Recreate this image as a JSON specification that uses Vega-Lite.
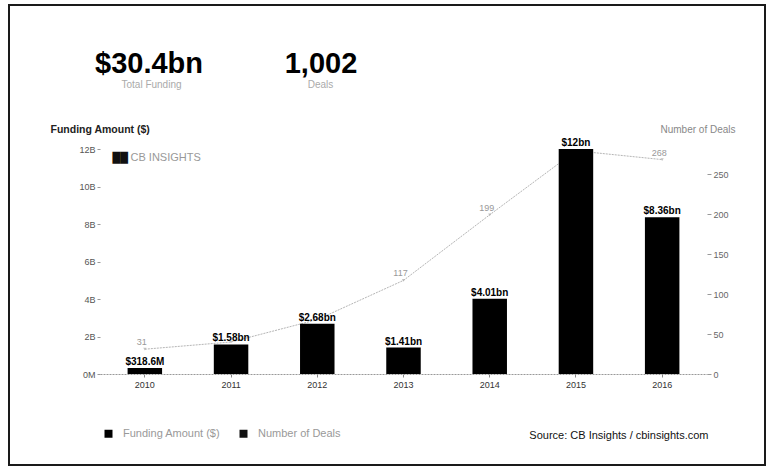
{
  "$schema": "https://vega.github.io/schema/vega-lite/v6.json",
  "width": 756,
  "height": 460,
  "autosize": {"type": "none"},
  "padding": {"left": 9, "top": 5, "right": 2, "bottom": 1},
  "background": "white",
  "config": {
    "font": "Liberation Sans",
    "view": {"stroke": "#1a1a1a", "strokeWidth": 2}
  },
  "data": {
    "values": [
      {"year": "2010", "funding": 0.3186, "label": "$318.6M", "deals": 31},
      {"year": "2011", "funding": 1.58, "label": "$1.58bn", "deals": 40},
      {"year": "2012", "funding": 2.68, "label": "$2.68bn", "deals": 68},
      {"year": "2013", "funding": 1.41, "label": "$1.41bn", "deals": 117},
      {"year": "2014", "funding": 4.01, "label": "$4.01bn", "deals": 199},
      {"year": "2015", "funding": 12, "label": "$12bn", "deals": 279},
      {"year": "2016", "funding": 8.36, "label": "$8.36bn", "deals": 268}
    ]
  },
  "layer": [
    {
      "mark": {"type": "line", "color": "#b5b5b5", "strokeWidth": 1, "strokeDash": [2, 1]},
      "encoding": {
        "x": {"field": "year", "type": "ordinal", "sort": null,
          "scale": {"type": "band", "range": [91, 698], "paddingInner": 0.6, "paddingOuter": 0.32},
          "axis": {"orient": "top", "offset": 0, "labels": false, "ticks": false, "domain": false, "grid": false,
            "title": "$30.4bn", "titleX": 139.5, "titleY": 67, "titleAlign": "center", "titleAnchor": null, "titleBaseline": "alphabetic",
            "titleFontSize": 29, "titleFontWeight": "bold", "titleColor": "#000"}},
        "y": {"field": "deals", "type": "quantitative",
          "scale": {"domain": [0, 281.25], "range": [369, 144], "nice": false, "zero": true},
          "axis": {"orient": "right", "offset": -58, "values": [0, 50, 100, 150, 200, 250], "grid": false, "domain": false,
            "tickSize": 4, "tickColor": "#999", "labelPadding": 2, "labelFontSize": 9, "labelColor": "#666",
            "title": "Number of Deals", "titleAngle": 0, "titleX": 28, "titleY": 127, "titleAlign": "right", "titleBaseline": "alphabetic",
            "titleFontSize": 10, "titleFontWeight": "normal", "titleColor": "#888"}}
      }
    },
    {
      "mark": {"type": "point", "shape": "triangle-down", "filled": true, "size": 10, "color": "#aaa"},
      "encoding": {
        "x": {"field": "year", "type": "ordinal", "sort": null,
          "scale": {"type": "band", "range": [91, 698], "paddingInner": 0.6, "paddingOuter": 0.32},
          "axis": {"orient": "top", "offset": 0, "labels": false, "ticks": false, "domain": false, "grid": false,
            "title": "Total Funding", "titleX": 142, "titleY": 82, "titleAlign": "center", "titleBaseline": "alphabetic",
            "titleFontSize": 10, "titleFontWeight": "normal", "titleColor": "#aaa"}},
        "y": {"field": "deals", "type": "quantitative",
          "scale": {"domain": [0, 281.25], "range": [369, 144], "nice": false, "zero": true},
          "axis": {"orient": "left", "offset": 0, "labels": false, "ticks": false, "domain": false, "grid": false,
            "title": "██", "titleAngle": 0, "titleX": 103, "titleY": 155, "titleAlign": "left", "titleBaseline": "alphabetic",
            "titleFont": "DejaVu Sans", "titleFontSize": 10, "titleFontWeight": "normal", "titleColor": "#111"}}
      }
    },
    {
      "transform": [{"filter": "datum.year != '2011' && datum.year != '2012' && datum.year != '2015'"}],
      "mark": {"type": "text", "dy": -4, "dx": -3, "baseline": "alphabetic", "fontSize": 9, "color": "#999"},
      "encoding": {
        "x": {"field": "year", "type": "ordinal", "sort": null,
          "scale": {"type": "band", "range": [91, 698], "paddingInner": 0.6, "paddingOuter": 0.32},
          "axis": {"orient": "top", "offset": 0, "labels": false, "ticks": false, "domain": false, "grid": false,
            "title": "1,002", "titleX": 311.5, "titleY": 67, "titleAlign": "center", "titleBaseline": "alphabetic",
            "titleFontSize": 29, "titleFontWeight": "bold", "titleColor": "#000"}},
        "y": {"field": "deals", "type": "quantitative",
          "scale": {"domain": [0, 281.25], "range": [369, 144], "nice": false, "zero": true},
          "axis": {"orient": "left", "offset": 0, "labels": false, "ticks": false, "domain": false, "grid": false,
            "title": "CB INSIGHTS", "titleAngle": 0, "titleX": 121, "titleY": 155, "titleAlign": "left", "titleBaseline": "alphabetic",
            "titleFontSize": 11, "titleFontWeight": "normal", "titleColor": "#999"}},
        "text": {"field": "deals", "type": "quantitative"}
      }
    },
    {
      "mark": {"type": "bar"},
      "encoding": {
        "x": {"field": "year", "type": "ordinal", "sort": null,
          "scale": {"type": "band", "range": [91, 698], "paddingInner": 0.6, "paddingOuter": 0.32},
          "axis": {"orient": "bottom", "offset": -91, "labelAngle": 0, "labelFontSize": 9, "labelColor": "#333", "labelPadding": 3,
            "tickSize": 3, "tickColor": "#888", "domain": true, "domainColor": "#999", "domainDash": [2, 1], "grid": false,
            "title": "Source: CB Insights / cbinsights.com", "titleX": 699, "titleY": 64, "titleAlign": "right", "titleBaseline": "alphabetic",
            "titleFontSize": 11, "titleFontWeight": "normal", "titleColor": "#111"}},
        "y": {"field": "funding", "type": "quantitative",
          "scale": {"domain": [0, 12], "range": [369, 144], "nice": false, "zero": true},
          "axis": {"orient": "left", "offset": -91, "values": [0, 2, 4, 6, 8, 10, 12], "grid": false, "domain": false,
            "labelExpr": "datum.value == 0 ? '0M' : datum.value + 'B'",
            "tickSize": 3, "tickColor": "#999", "labelPadding": 2, "labelFontSize": 9, "labelColor": "#555",
            "title": "Funding Amount ($)", "titleAngle": 0, "titleX": -50, "titleY": 127, "titleAlign": "left", "titleBaseline": "alphabetic",
            "titleFontSize": 10.5, "titleFontWeight": "bold", "titleColor": "#222"}},
        "color": {"datum": "Funding Amount ($)", "type": "nominal",
          "scale": {"domain": ["Funding Amount ($)", "Number of Deals"], "range": ["#000000", "#111111"]},
          "legend": {"orient": "none", "legendX": 94, "legendY": 423, "direction": "horizontal", "title": null,
            "symbolType": "square", "symbolSize": 64, "symbolStrokeWidth": 0, "labelFontSize": 11, "labelColor": "#999",
            "labelOffset": 9, "columnPadding": 17, "padding": 0}}
      }
    },
    {
      "mark": {"type": "text", "dy": -3, "baseline": "alphabetic", "fontSize": 10, "fontWeight": "bold", "color": "#000"},
      "encoding": {
        "x": {"field": "year", "type": "ordinal", "sort": null,
          "scale": {"type": "band", "range": [91, 698], "paddingInner": 0.6, "paddingOuter": 0.32},
          "axis": {"orient": "top", "offset": 0, "labels": false, "ticks": false, "domain": false, "grid": false,
            "title": "Deals", "titleX": 311, "titleY": 82, "titleAlign": "center", "titleBaseline": "alphabetic",
            "titleFontSize": 10, "titleFontWeight": "normal", "titleColor": "#aaa"}},
        "y": {"field": "funding", "type": "quantitative",
          "scale": {"domain": [0, 12], "range": [369, 144], "nice": false, "zero": true},
          "axis": null},
        "text": {"field": "label", "type": "nominal"}
      }
    }
  ],
  "resolve": {"scale": {"y": "independent"}, "axis": {"x": "independent", "y": "independent"}}
}
